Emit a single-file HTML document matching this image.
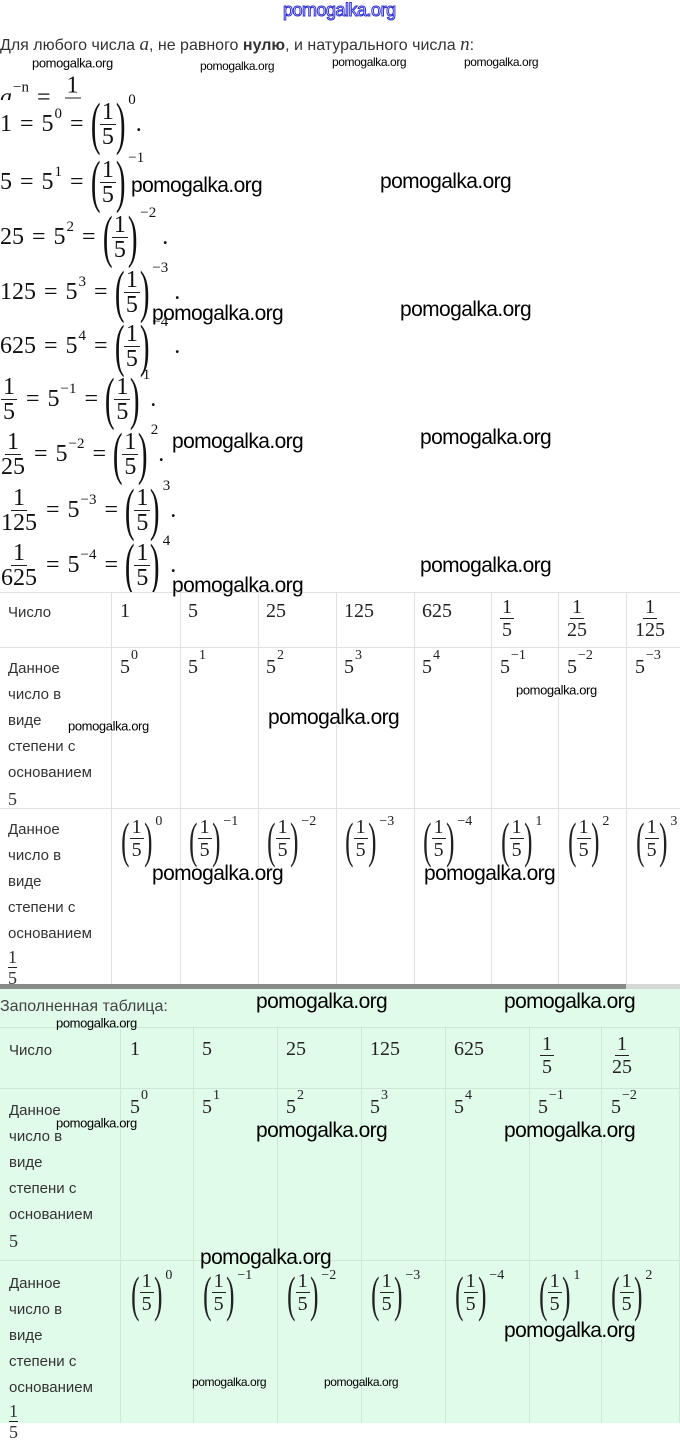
<!DOCTYPE html>
<html><head><meta charset="utf-8"><style>
body{margin:0;width:680px;height:1423px;position:relative;overflow:hidden;background:#fff;font-family:"Liberation Sans",sans-serif;}
.a{position:absolute;white-space:nowrap}
.m{position:absolute;white-space:nowrap;font-family:"Liberation Serif",serif;font-size:24px;color:#111;display:flex;align-items:center;transform:translateY(-50%);left:0}
.e{margin:0 8px;font-weight:normal}
.fr{display:inline-flex;flex-direction:column;align-items:center;line-height:24px;margin:0 1px}
.fr .n{border-bottom:1px solid #222;padding:0 2px}
.p{font-size:58px;font-weight:100;display:inline-block;transform:scaleX(.5);line-height:56px;margin:0 -6px}
.sp{font-size:15px;align-self:flex-start;margin-top:-4px;margin-left:4px}
.s{font-size:15px;position:relative;top:-10px;margin-left:1px}
.w{position:absolute;white-space:nowrap;font-family:"Liberation Sans",sans-serif;color:#000;transform:translateY(-50%);letter-spacing:-0.6px}
.wb{font-size:21px}
.ws{font-size:12px;letter-spacing:-0.4px}
.t{position:absolute;font-family:"Liberation Sans",sans-serif;font-size:15px;color:#333;line-height:26px}
.tm{position:absolute;font-family:"Liberation Serif",serif;font-size:20px;color:#222;white-space:nowrap;display:flex;align-items:flex-start}
.tm .fr{line-height:22px}
.tm .p{font-size:50px;line-height:48px;margin:0 -5px}
.tm .sp{font-size:14px;margin-top:-2px;margin-left:4px}
.tm .s{font-size:14px;top:-8px}
.vl{position:absolute;width:1px;background:#e2e2e2}
.hl{position:absolute;height:1px;background:#e2e2e2}
</style></head><body>

<div class="a" style="left:283px;top:0;font-size:18px;color:#fff;-webkit-text-stroke:1px #3030d0;letter-spacing:-0.5px">pomogalka.org</div>
<div class="a" style="left:0;top:34px;font-size:16px;color:#333">Для любого числа <i style="font-family:'Liberation Serif';font-size:19px">a</i>, не равного <b>нулю</b>, и натурального числа <i style="font-family:'Liberation Serif';font-size:19px">n</i>:</div>

<div class="m" style="top:98px;"><i>a</i><span class="s">−n</span><b class="e">=</b><span class="fr" style="margin-left:6px"><span class="n">1</span><span>&nbsp;</span></span></div>
<div style="position:absolute;left:0;top:100px;width:200px;height:14px;background:#fff"></div>

<div class="m" style="top:124px">1<b class="e">=</b>5<span class="s">0</span><b class="e">=</b><span class="p">(</span><span class="fr"><span class="n">1</span><span>5</span></span><span class="p">)</span><span class="sp">0</span>.</div>
<div class="m" style="top:182px">5<b class="e">=</b>5<span class="s">1</span><b class="e">=</b><span class="p">(</span><span class="fr"><span class="n">1</span><span>5</span></span><span class="p">)</span><span class="sp">−1</span></div>
<div class="m" style="top:237px">25<b class="e">=</b>5<span class="s">2</span><b class="e">=</b><span class="p">(</span><span class="fr"><span class="n">1</span><span>5</span></span><span class="p">)</span><span class="sp">−2</span>&nbsp;.</div>
<div class="m" style="top:292px">125<b class="e">=</b>5<span class="s">3</span><b class="e">=</b><span class="p">(</span><span class="fr"><span class="n">1</span><span>5</span></span><span class="p">)</span><span class="sp">−3</span>&nbsp;.</div>
<div class="m" style="top:346px">625<b class="e">=</b>5<span class="s">4</span><b class="e">=</b><span class="p">(</span><span class="fr"><span class="n">1</span><span>5</span></span><span class="p">)</span><span class="sp">−4</span>&nbsp;.</div>
<div class="m" style="top:399px"><span class="fr"><span class="n">1</span><span>5</span></span><b class="e">=</b>5<span class="s">−1</span><b class="e">=</b><span class="p">(</span><span class="fr"><span class="n">1</span><span>5</span></span><span class="p">)</span><span class="sp">1</span>.</div>
<div class="m" style="top:454px"><span class="fr"><span class="n">1</span><span>25</span></span><b class="e">=</b>5<span class="s">−2</span><b class="e">=</b><span class="p">(</span><span class="fr"><span class="n">1</span><span>5</span></span><span class="p">)</span><span class="sp">2</span>.</div>
<div class="m" style="top:510px"><span class="fr"><span class="n">1</span><span>125</span></span><b class="e">=</b>5<span class="s">−3</span><b class="e">=</b><span class="p">(</span><span class="fr"><span class="n">1</span><span>5</span></span><span class="p">)</span><span class="sp">3</span>.</div>
<div class="m" style="top:565px"><span class="fr"><span class="n">1</span><span>625</span></span><b class="e">=</b>5<span class="s">−4</span><b class="e">=</b><span class="p">(</span><span class="fr"><span class="n">1</span><span>5</span></span><span class="p">)</span><span class="sp">4</span>.</div>

<!-- table 1 -->
<div style="position:absolute;left:0;top:592px;width:680px;height:393px;background:#fff"></div>
<div class="hl" style="left:0;top:592px;width:680px"></div>
<div class="hl" style="left:0;top:647px;width:680px"></div>
<div class="hl" style="left:0;top:808px;width:680px"></div>
<div class="vl" style="left:111px;top:592px;height:393px"></div>
<div class="vl" style="left:180px;top:592px;height:393px"></div>
<div class="vl" style="left:258px;top:592px;height:393px"></div>
<div class="vl" style="left:336px;top:592px;height:393px"></div>
<div class="vl" style="left:414px;top:592px;height:393px"></div>
<div class="vl" style="left:491px;top:592px;height:393px"></div>
<div class="vl" style="left:558px;top:592px;height:393px"></div>
<div class="vl" style="left:626px;top:592px;height:393px"></div>
<div style="position:absolute;left:0;top:984px;width:626px;height:5px;background:#8a8a8a"></div>
<div style="position:absolute;left:626px;top:984px;width:54px;height:5px;background:#d8d8d8"></div>

<div class="t" style="left:8px;top:600px">Число</div>
<div class="tm" style="left:120px;top:600px">1</div>
<div class="tm" style="left:188px;top:600px">5</div>
<div class="tm" style="left:266px;top:600px">25</div>
<div class="tm" style="left:344px;top:600px">125</div>
<div class="tm" style="left:422px;top:600px">625</div>
<div class="tm" style="left:499px;top:596px"><span class="fr"><span class="n">1</span><span>5</span></span></div>
<div class="tm" style="left:566px;top:596px"><span class="fr"><span class="n">1</span><span>25</span></span></div>
<div class="tm" style="left:634px;top:596px"><span class="fr"><span class="n">1</span><span>125</span></span></div>

<div class="t" style="left:8px;top:656px">Данное<br>число в<br>виде<br>степени с<br>основанием<br><span style="font-family:'Liberation Serif';font-size:18px">5</span></div>
<div class="tm" style="left:120px;top:656px">5<span class="s">0</span></div>
<div class="tm" style="left:188px;top:656px">5<span class="s">1</span></div>
<div class="tm" style="left:266px;top:656px">5<span class="s">2</span></div>
<div class="tm" style="left:344px;top:656px">5<span class="s">3</span></div>
<div class="tm" style="left:422px;top:656px">5<span class="s">4</span></div>
<div class="tm" style="left:500px;top:656px">5<span class="s">−1</span></div>
<div class="tm" style="left:567px;top:656px">5<span class="s">−2</span></div>
<div class="tm" style="left:635px;top:656px">5<span class="s">−3</span></div>

<div class="t" style="left:8px;top:817px">Данное<br>число в<br>виде<br>степени с<br>основанием<br><span style="font-family:'Liberation Serif';font-size:18px;line-height:20px;display:inline-block;text-align:center"><span style="border-bottom:1px solid #222;display:block">1</span>5</span></div>
<div class="tm" style="left:122px;top:816px"><span class="p">(</span><span class="fr"><span class="n">1</span><span>5</span></span><span class="p">)</span><span class="sp">0</span></div>
<div class="tm" style="left:190px;top:816px"><span class="p">(</span><span class="fr"><span class="n">1</span><span>5</span></span><span class="p">)</span><span class="sp">−1</span></div>
<div class="tm" style="left:268px;top:816px"><span class="p">(</span><span class="fr"><span class="n">1</span><span>5</span></span><span class="p">)</span><span class="sp">−2</span></div>
<div class="tm" style="left:346px;top:816px"><span class="p">(</span><span class="fr"><span class="n">1</span><span>5</span></span><span class="p">)</span><span class="sp">−3</span></div>
<div class="tm" style="left:424px;top:816px"><span class="p">(</span><span class="fr"><span class="n">1</span><span>5</span></span><span class="p">)</span><span class="sp">−4</span></div>
<div class="tm" style="left:502px;top:816px"><span class="p">(</span><span class="fr"><span class="n">1</span><span>5</span></span><span class="p">)</span><span class="sp">1</span></div>
<div class="tm" style="left:569px;top:816px"><span class="p">(</span><span class="fr"><span class="n">1</span><span>5</span></span><span class="p">)</span><span class="sp">2</span></div>
<div class="tm" style="left:637px;top:816px"><span class="p">(</span><span class="fr"><span class="n">1</span><span>5</span></span><span class="p">)</span><span class="sp">3</span></div>

<!-- green section -->
<div style="position:absolute;left:0;top:989px;width:680px;height:434px;background:#e0fbea"></div>
<div class="a" style="left:0;top:998px;font-size:16px;color:#444">Заполненная таблица:</div>
<div class="hl" style="left:0;top:1027px;width:680px;background:#cde8d6"></div>
<div class="hl" style="left:0;top:1088px;width:680px;background:#cde8d6"></div>
<div class="hl" style="left:0;top:1260px;width:680px;background:#cde8d6"></div>
<div class="vl" style="left:120px;top:1027px;height:396px;background:#cde8d6"></div>
<div class="vl" style="left:193px;top:1027px;height:396px;background:#cde8d6"></div>
<div class="vl" style="left:277px;top:1027px;height:396px;background:#cde8d6"></div>
<div class="vl" style="left:361px;top:1027px;height:396px;background:#cde8d6"></div>
<div class="vl" style="left:445px;top:1027px;height:396px;background:#cde8d6"></div>
<div class="vl" style="left:529px;top:1027px;height:396px;background:#cde8d6"></div>
<div class="vl" style="left:601px;top:1027px;height:396px;background:#cde8d6"></div>
<div class="vl" style="left:679px;top:1027px;height:396px;background:#cde8d6"></div>

<div class="t" style="left:9px;top:1038px">Число</div>
<div class="tm" style="left:130px;top:1038px">1</div>
<div class="tm" style="left:202px;top:1038px">5</div>
<div class="tm" style="left:286px;top:1038px">25</div>
<div class="tm" style="left:370px;top:1038px">125</div>
<div class="tm" style="left:454px;top:1038px">625</div>
<div class="tm" style="left:539px;top:1033px"><span class="fr"><span class="n">1</span><span>5</span></span></div>
<div class="tm" style="left:611px;top:1033px"><span class="fr"><span class="n">1</span><span>25</span></span></div>

<div class="t" style="left:9px;top:1098px">Данное<br>число в<br>виде<br>степени с<br>основанием<br><span style="font-family:'Liberation Serif';font-size:18px">5</span></div>
<div class="tm" style="left:130px;top:1096px">5<span class="s">0</span></div>
<div class="tm" style="left:202px;top:1096px">5<span class="s">1</span></div>
<div class="tm" style="left:286px;top:1096px">5<span class="s">2</span></div>
<div class="tm" style="left:370px;top:1096px">5<span class="s">3</span></div>
<div class="tm" style="left:454px;top:1096px">5<span class="s">4</span></div>
<div class="tm" style="left:538px;top:1096px">5<span class="s">−1</span></div>
<div class="tm" style="left:611px;top:1096px">5<span class="s">−2</span></div>

<div class="t" style="left:9px;top:1271px">Данное<br>число в<br>виде<br>степени с<br>основанием<br><span style="font-family:'Liberation Serif';font-size:18px;line-height:20px;display:inline-block;text-align:center"><span style="border-bottom:1px solid #222;display:block">1</span>5</span></div>
<div class="tm" style="left:132px;top:1270px"><span class="p">(</span><span class="fr"><span class="n">1</span><span>5</span></span><span class="p">)</span><span class="sp">0</span></div>
<div class="tm" style="left:204px;top:1270px"><span class="p">(</span><span class="fr"><span class="n">1</span><span>5</span></span><span class="p">)</span><span class="sp">−1</span></div>
<div class="tm" style="left:288px;top:1270px"><span class="p">(</span><span class="fr"><span class="n">1</span><span>5</span></span><span class="p">)</span><span class="sp">−2</span></div>
<div class="tm" style="left:372px;top:1270px"><span class="p">(</span><span class="fr"><span class="n">1</span><span>5</span></span><span class="p">)</span><span class="sp">−3</span></div>
<div class="tm" style="left:456px;top:1270px"><span class="p">(</span><span class="fr"><span class="n">1</span><span>5</span></span><span class="p">)</span><span class="sp">−4</span></div>
<div class="tm" style="left:540px;top:1270px"><span class="p">(</span><span class="fr"><span class="n">1</span><span>5</span></span><span class="p">)</span><span class="sp">1</span></div>
<div class="tm" style="left:612px;top:1270px"><span class="p">(</span><span class="fr"><span class="n">1</span><span>5</span></span><span class="p">)</span><span class="sp">2</span></div>

<!-- watermarks -->
<div class="w ws" style="left:32px;top:63px;font-size:13px">pomogalka.org</div>
<div class="w ws" style="left:200px;top:66px">pomogalka.org</div>
<div class="w ws" style="left:332px;top:62px">pomogalka.org</div>
<div class="w ws" style="left:464px;top:62px">pomogalka.org</div>
<div class="w wb" style="left:131px;top:186px">pomogalka.org</div>
<div class="w wb" style="left:380px;top:182px">pomogalka.org</div>
<div class="w wb" style="left:152px;top:314px">pomogalka.org</div>
<div class="w wb" style="left:400px;top:310px">pomogalka.org</div>
<div class="w wb" style="left:172px;top:442px">pomogalka.org</div>
<div class="w wb" style="left:420px;top:438px">pomogalka.org</div>
<div class="w wb" style="left:172px;top:586px">pomogalka.org</div>
<div class="w wb" style="left:420px;top:566px">pomogalka.org</div>
<div class="w wb" style="left:268px;top:718px">pomogalka.org</div>
<div class="w ws" style="left:516px;top:690px;font-size:13px">pomogalka.org</div>
<div class="w ws" style="left:68px;top:726px;font-size:13px">pomogalka.org</div>
<div class="w wb" style="left:152px;top:874px">pomogalka.org</div>
<div class="w wb" style="left:424px;top:874px">pomogalka.org</div>
<div class="w wb" style="left:256px;top:1002px">pomogalka.org</div>
<div class="w wb" style="left:504px;top:1002px">pomogalka.org</div>
<div class="w ws" style="left:56px;top:1023px;font-size:13px">pomogalka.org</div>
<div class="w ws" style="left:56px;top:1123px;font-size:13px">pomogalka.org</div>
<div class="w wb" style="left:256px;top:1131px">pomogalka.org</div>
<div class="w wb" style="left:504px;top:1131px">pomogalka.org</div>
<div class="w wb" style="left:200px;top:1258px">pomogalka.org</div>
<div class="w wb" style="left:504px;top:1331px">pomogalka.org</div>
<div class="w ws" style="left:192px;top:1382px">pomogalka.org</div>
<div class="w ws" style="left:324px;top:1382px">pomogalka.org</div>
</body></html>
